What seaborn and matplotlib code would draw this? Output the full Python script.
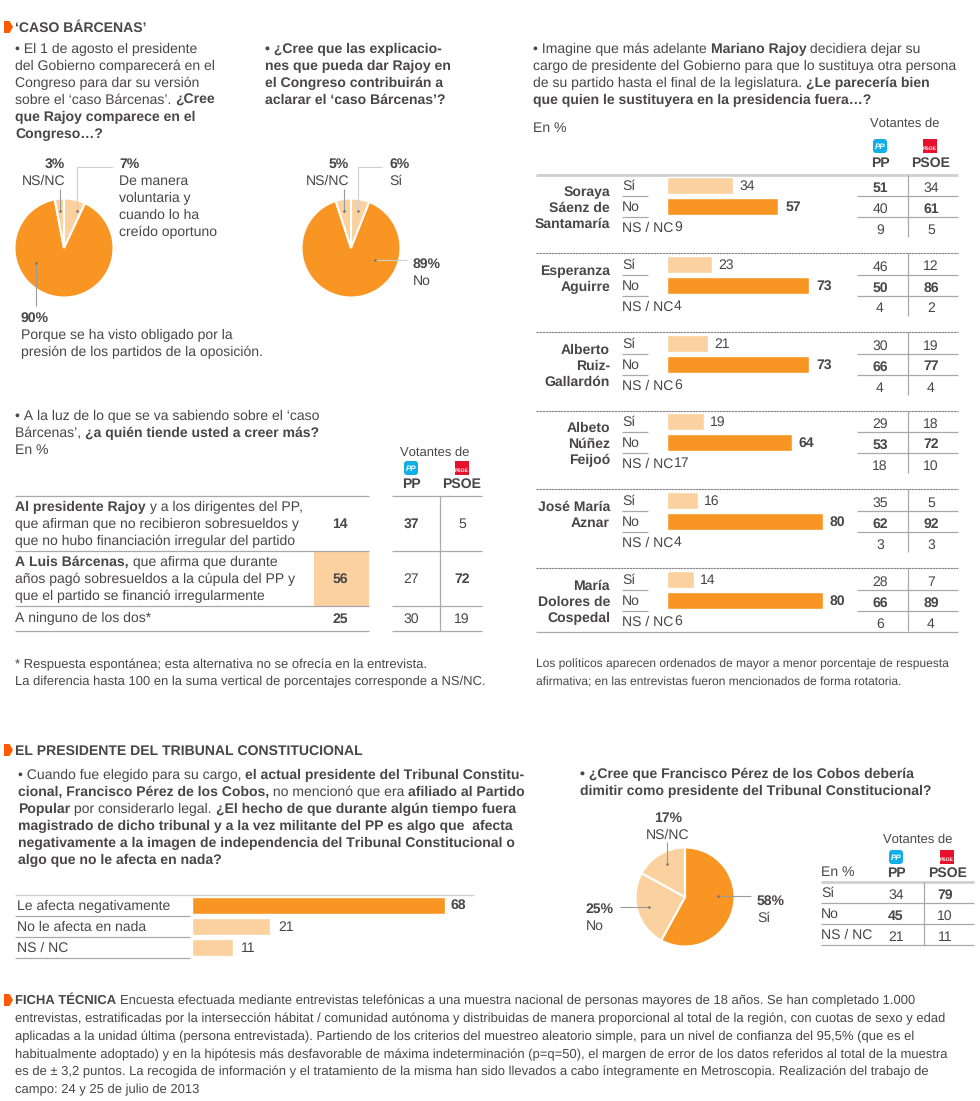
import matplotlib
matplotlib.use("Agg")
import matplotlib.pyplot as plt
from matplotlib.patches import FancyBboxPatch, Polygon, Rectangle
import pandas as pd
import seaborn as sns

# ---------- data ----------
pie1_values = [7, 90, 3]
pie2_values = [6, 89, 5]
pie3_values = [58, 25, 17]

politicians = [["Soraya", "Sáenz de", "Santamaría"], ["Esperanza", "Aguirre"],
               ["Alberto", "Ruiz-", "Gallardón"], ["Albeto", "Núñez", "Feijoó"],
               ["José María", "Aznar"], ["María", "Dolores de", "Cospedal"]]
pol_si = [34, 23, 21, 19, 16, 14]
pol_no = [57, 73, 73, 64, 80, 80]
pol_ns = [9, 4, 6, 17, 4, 6]
pol_pp = [[51, 40, 9], [46, 50, 4], [30, 66, 4], [29, 53, 18], [35, 62, 3], [28, 66, 6]]
pol_psoe = [[34, 61, 5], [12, 86, 2], [19, 77, 4], [18, 72, 10], [5, 92, 3], [7, 89, 4]]

believe_values = [14, 56, 25]
believe_pp = [37, 27, 30]
believe_psoe = [5, 72, 19]

tc_labels = ["Le afecta negativamente", "No le afecta en nada", "NS / NC"]
tc_values = [68, 21, 11]

resign_labels = ["Sí", "No", "NS / NC"]
resign_pp = [34, 45, 21]
resign_psoe = [79, 10, 11]

ficha_lines = [
    "Encuesta efectuada mediante entrevistas telefónicas a una muestra nacional de personas mayores de 18 años. Se han completado 1.000",
    "entrevistas, estratificadas por la intersección hábitat / comunidad autónoma y distribuidas de manera proporcional al total de la región, con cuotas de sexo y edad",
    "aplicadas a la unidad última (persona entrevistada). Partiendo de los criterios del muestreo aleatorio simple, para un nivel de confianza del 95,5% (que es el",
    "habitualmente adoptado) y en la hipótesis más desfavorable de máxima indeterminación (p=q=50), el margen de error de los datos referidos al total de la muestra",
    "es de ± 3,2 puntos. La recogida de información y el tratamiento de la misma han sido llevados a cabo íntegramente en Metroscopia. Realización del trabajo de",
    "campo: 24 y 25 de julio de 2013",
]

# ---------- style ----------
sns.set_theme(style="white")
plt.rcParams["font.family"] = ["Liberation Sans", "DejaVu Sans"]
plt.rcParams["text.hinting"] = "none"
plt.rcParams["text.hinting_factor"] = 1
INK = "#4a4547"
ORANGE = "#f99522"
LIGHT = "#fbd29f"
RULE = "#a9a9a9"
SOFT = "#cfcfcf"
FS = 10.1
FS_SMALL = 9.35
FS_TAB = 10.1
FS_HEAD = 9.7
FS_NUM = 10.0

W, H = 980, 1101
fig = plt.figure(figsize=(W / 100, H / 100), dpi=100, facecolor="white")
bg = fig.add_axes([0, 0, 1, 1])
bg.set_xlim(0, W)
bg.set_ylim(H, 0)
bg.axis("off")
fg = fig.add_axes([0, 0, 1, 1], zorder=20)
fg.set_xlim(0, W)
fg.set_ylim(H, 0)
fg.axis("off")
fg.patch.set_alpha(0)


def px_axes(x0, y0, x1, y1):
    ax = fig.add_axes([x0 / W, 1 - y1 / H, (x1 - x0) / W, (y1 - y0) / H], zorder=5)
    ax.patch.set_alpha(0)
    return ax


def txt(x, y, s, bold=False, ha="left", size=FS, color=INK):
    return bg.text(x, y, s, ha=ha, va="baseline", fontsize=size, color=color,
                   fontweight="bold" if bold else "normal")


def rich(x, y, parts, size=FS):
    r = fig.canvas.get_renderer()
    for s, b in parts:
        txt(x, y, s, bold=b, size=size)
        probe = txt(0, 0, "x" + s + "x", bold=b, size=size)
        probe2 = txt(0, 0, "xx", bold=b, size=size)
        x += probe.get_window_extent(r).width - probe2.get_window_extent(r).width
        probe.remove()
        probe2.remove()


def hline(x0, x1, y, color=RULE, lw=0.9, ls="-"):
    bg.plot([x0, x1], [y, y], color=color, lw=lw, ls=ls, solid_capstyle="butt")


def vline(x, y0, y1, color=RULE, lw=0.9):
    bg.plot([x, x], [y0, y1], color=color, lw=lw, solid_capstyle="butt")


def marker(y):
    bg.add_patch(Polygon([(4, y), (9.5, y), (13, y + 6), (9.5, y + 12), (4, y + 12)],
                         closed=True, color="#ff5a00", lw=0))


def logos(cx_pp, cx_psoe, y0):
    bg.add_patch(FancyBboxPatch((cx_pp - 7, y0), 14, 14,
                                boxstyle="round,pad=0,rounding_size=3",
                                fc="#12aee8", ec="none", lw=0))
    bg.text(cx_pp, y0 + 10, "PP", fontsize=6, fontweight="bold", fontstyle="italic",
            color="white", ha="center", va="baseline")
    bg.add_patch(Rectangle((cx_psoe - 7, y0), 14, 14, fc="#e8112d", lw=0))
    txt(cx_psoe, y0 + 11, "PSOE", bold=True, ha="center", size=3.9, color="white")


def pie(cx, cy, values, colors, r=49.5):
    ax = px_axes(cx - r - 2, cy - r - 2, cx + r + 2, cy + r + 2)
    ax.pie(values, colors=colors, startangle=90, counterclock=False, radius=1,
           wedgeprops=dict(edgecolor="white", linewidth=1.5))
    ax.set_xlim(-(r + 2) / r, (r + 2) / r)
    ax.set_ylim(-(r + 2) / r, (r + 2) / r)


def leader(points, color="#9a9a9a", dot=True):
    xs, ys = zip(*points)
    fg.plot(xs, ys, color=color, lw=0.8, solid_capstyle="butt")
    if dot:
        fg.plot([xs[-1]], [ys[-1]], "o", ms=1.8, mew=0, color="#6f6f6f")


def bars(x0, y_center0, cats, vals, colors, px_per_unit, max_unit, pitch, height):
    n = len(cats)
    df = pd.DataFrame({"resp": cats, "val": vals})
    ax = px_axes(x0, y_center0 - pitch / 2, x0 + px_per_unit * max_unit,
                 y_center0 - pitch / 2 + pitch * n)
    sns.barplot(data=df, y="resp", x="val", hue="resp", palette=dict(zip(cats, colors)),
                width=height / pitch, legend=False, ax=ax, dodge=False, saturation=1)
    ax.set_xlim(0, max_unit)
    ax.set_ylim(n - 0.5, -0.5)
    ax.axis("off")


# ---------- section 1 ----------
marker(21)
rich(15, 32, [("‘CASO BÁRCENAS’", True)], size=10.1)

rich(15, 53, [("• El 1 de agosto el presidente", False)])
rich(15, 70, [("del Gobierno comparecerá en el", False)])
rich(15, 87, [("Congreso para dar su versión", False)])
rich(15, 104, [("sobre el ‘caso Bárcenas’. ", False), ("¿Cree", True)])
rich(15, 121, [("que Rajoy comparece en el", True)])
rich(15, 138, [("Congreso…?", True)])

rich(265, 53, [("• ¿Cree que las explicacio-", True)])
rich(265, 70, [("nes que pueda dar Rajoy en", True)])
rich(265, 87, [("el Congreso contribuirán a", True)])
rich(265, 104, [("aclarar el ‘caso Bárcenas’?", True)])

pie(64, 248, pie1_values, [LIGHT, ORANGE, LIGHT])
pie(351, 248, pie2_values, [LIGHT, ORANGE, LIGHT])

leader([(113, 167), (77, 167), (77, 211)], color=SOFT)
leader([(60, 189), (60, 211)])
leader([(36, 306), (36, 263)])
leader([(382, 167), (358, 167), (358, 211)], color=SOFT)
leader([(344, 189), (344, 211)])
leader([(407, 260), (375, 260)], color=SOFT)

txt(65, 168, f"{pie1_values[2]}%", bold=True, ha="right")
txt(65, 185, "NS/NC", ha="right")
txt(119, 168, f"{pie1_values[0]}%", bold=True)
for i, s in enumerate(["De manera", "voluntaria y", "cuando lo ha", "creído oportuno"]):
    txt(119, 185 + 17 * i, s)
txt(21, 322, f"{pie1_values[1]}%", bold=True)
txt(21, 339, "Porque se ha visto obligado por la")
txt(21, 356, "presión de los partidos de la oposición.")

txt(349, 168, f"{pie2_values[2]}%", bold=True, ha="right")
txt(349, 185, "NS/NC", ha="right")
txt(389, 168, f"{pie2_values[0]}%", bold=True)
txt(389, 185, "Sí")
txt(413, 268, f"{pie2_values[1]}%", bold=True)
txt(413, 285, "No")

# ---------- believe table ----------
rich(15, 420, [("• A la luz de lo que se va sabiendo sobre el ‘caso", False)])
rich(15, 437, [("Bárcenas’, ", False), ("¿a quién tiende usted a creer más?", True)])
txt(15, 454, "En %", size=FS_TAB)
txt(434.5, 456, "Votantes de", ha="center", size=FS_HEAD)
logos(411, 461.5, 461)
txt(411, 488, "PP", bold=True, ha="center", size=FS_TAB)
txt(462, 488, "PSOE", bold=True, ha="center", size=FS_TAB)

bg.add_patch(Rectangle((314, 551), 55, 54.5, fc=LIGHT, lw=0))
for y in [495.5, 550.5, 605.5, 631]:
    hline(15, 369, y)
    hline(392, 482, y)
vline(439.5, 495.5, 631)

rich(15, 511, [("Al presidente Rajoy", True), (" y a los dirigentes del PP,", False)])
rich(15, 528, [("que afirman que no recibieron sobresueldos y", False)])
rich(15, 545, [("que no hubo financiación irregular del partido", False)])
rich(15, 566, [("A Luis Bárcenas,", True), (" que afirma que durante", False)])
rich(15, 583, [("años pagó sobresueldos a la cúpula del PP y", False)])
rich(15, 600, [("que el partido se financió irregularmente", False)])
rich(15, 622, [("A ninguno de los dos*", False)])
for y, v, p, s, pb, sb in zip([528, 583, 623], believe_values, believe_pp, believe_psoe,
                              [True, False, False], [False, True, False]):
    txt(340, y, str(v), bold=True, ha="center", size=FS_NUM)
    txt(411, y, str(p), bold=pb, ha="center", size=FS_NUM)
    txt(462, y, str(s), bold=sb, ha="center", size=FS_NUM)

txt(15, 668, "* Respuesta espontánea; esta alternativa no se ofrecía en la entrevista.", size=FS_SMALL)
txt(15, 685, "La diferencia hasta 100 en la suma vertical de porcentajes corresponde a NS/NC.", size=FS_SMALL)

# ---------- politicians ----------
rich(533, 53, [("• Imagine que más adelante ", False), ("Mariano Rajoy", True), (" decidiera dejar su", False)])
rich(533, 70, [("cargo de presidente del Gobierno para que lo sustituya otra persona", False)])
rich(533, 87, [("de su partido hasta el final de la legislatura. ", False), ("¿Le parecería bien", True)])
rich(533, 104, [("que quien le sustituyera en la presidencia fuera…?", True)])
txt(533, 132, "En %", size=FS_TAB)
txt(905, 127, "Votantes de", ha="center", size=FS_HEAD)
logos(880, 930, 139)
txt(880, 167, "PP", bold=True, ha="center", size=FS_TAB)
txt(931, 167, "PSOE", bold=True, ha="center", size=FS_TAB)

tops = [175, 253, 332, 411, 489, 568]
centers = [185, 264, 343, 421, 500, 579]
hline(536, 958, 175, color=SOFT, lw=2)
hline(536, 958, 632)
for i, name in enumerate(politicians):
    c = centers[i]
    if i > 0:
        hline(536, 958, tops[i], color="#888888", lw=0.8, ls=(0, (2.2, 0.5)))
    vline(907.5, tops[i], min(c + 52, 632))
    bars(667, c, ["Sí", "No"], [pol_si[i], pol_no[i]], [LIGHT, ORANGE], 1.95, 100, 21, 17)
    for j, lab in enumerate(["Sí", "No", "NS / NC"]):
        y = c + 4.5 + 21 * j
        txt(622, y, lab, size=FS_TAB)
        if j < 2:
            hline(622, 648, c + 10.5 + 21 * j)
            hline(857, 958, c + 10.5 + 21 * j)
        ppv, psv = pol_pp[i][j], pol_psoe[i][j]
        txt(880, y + 2, str(ppv), bold=(ppv == max(pol_pp[i])), ha="center", size=FS_NUM)
        txt(931, y + 2, str(psv), bold=(psv == max(pol_psoe[i])), ha="center", size=FS_NUM)
    txt(667 + pol_si[i] * 1.95 + 6, c + 5, str(pol_si[i]), size=FS_NUM)
    txt(667 + pol_no[i] * 1.95 + 7, c + 26, str(pol_no[i]), bold=True, size=FS_NUM)
    txt(674, c + 46, str(pol_ns[i]), size=FS_NUM)
    for k, s in enumerate(name):
        txt(610, c + 11 + 16 * k, s, bold=True, ha="right", size=10.2)

txt(536, 668, "Los políticos aparecen ordenados de mayor a menor porcentaje de respuesta", size=8.95)
txt(536, 685, "afirmativa; en las entrevistas fueron mencionados de forma rotatoria.", size=8.95)

# ---------- section 2 ----------
marker(744)
rich(15, 755, [("EL PRESIDENTE DEL TRIBUNAL CONSTITUCIONAL", True)], size=10.1)
rich(18, 779, [("• Cuando fue elegido para su cargo, ", False), ("el actual presidente del Tribunal Constitu-", True)])
rich(18, 796, [("cional, Francisco Pérez de los Cobos,", True), (" no mencionó que era ", False), ("afiliado al Partido", True)])
rich(18, 813, [("Popular", True), (" por considerarlo legal. ", False), ("¿El hecho de que durante algún tiempo fuera", True)])
rich(18, 830, [("magistrado de dicho tribunal y a la vez militante del PP es algo que  afecta", True)])
rich(18, 847, [("negativamente a la imagen de independencia del Tribunal Constitucional o", True)])
rich(18, 864, [("algo que no le afecta en nada?", True)])

hline(15, 474, 894.5, color=SOFT)
for y in [915.5, 936.5, 958]:
    hline(15, 190, y)
bars(192, 905, tc_labels, tc_values, [ORANGE, LIGHT, LIGHT], 3.72, 75, 21, 17)
for j, lab in enumerate(tc_labels):
    txt(17, 910 + 21 * j, lab)
    x = 192 + tc_values[j] * 3.72 + (6 if j == 0 else 8)
    txt(x, 910 + 21 * j - (0 if j else 1), str(tc_values[j]), bold=(j == 0), size=FS_NUM)

rich(580, 778, [("• ¿Cree que Francisco Pérez de los Cobos debería", True)])
rich(580, 795, [("dimitir como presidente del Tribunal Constitucional?", True)])

pie(685, 897, pie3_values, [ORANGE, LIGHT, LIGHT])
leader([(751, 896), (718, 896)])
leader([(620, 907), (649, 907)])
leader([(667, 842), (667, 864)])
txt(668, 822, f"{pie3_values[2]}%", bold=True, ha="center")
txt(668, 839, "NS/NC", ha="center")
txt(757, 905, f"{pie3_values[0]}%", bold=True)
txt(757, 922, "Sí")
txt(586, 913, f"{pie3_values[1]}%", bold=True)
txt(586, 930, "No")

txt(918, 843, "Votantes de", ha="center", size=FS_HEAD)
logos(896, 947, 850)
txt(896, 877, "PP", bold=True, ha="center", size=FS_TAB)
txt(947.5, 877, "PSOE", bold=True, ha="center", size=FS_TAB)
txt(821, 876, "En %", size=FS_TAB)
hline(821, 974, 882, color=SOFT, lw=2)
for y in [902.5, 923.5, 944.5]:
    hline(821, 974, y)
vline(923.5, 882, 944.5)
for j, lab in enumerate(resign_labels):
    y = 897 + 21 * j
    txt(821, y, lab, size=FS_TAB)
    txt(896, y + 2, str(resign_pp[j]), bold=(resign_pp[j] == max(resign_pp)), ha="center", size=FS_NUM)
    txt(945, y + 2, str(resign_psoe[j]), bold=(resign_psoe[j] == max(resign_psoe)), ha="center", size=FS_NUM)

# ---------- ficha ----------
marker(994)
rich(15, 1004, [("FICHA TÉCNICA ", True), (ficha_lines[0], False)], size=FS_SMALL)
for i, s in enumerate(ficha_lines[1:], start=1):
    txt(15, 1004 + 18 * i - (1 if i > 3 else 0), s, size=FS_SMALL)

fig.savefig("out.png", dpi=100, facecolor="white")
